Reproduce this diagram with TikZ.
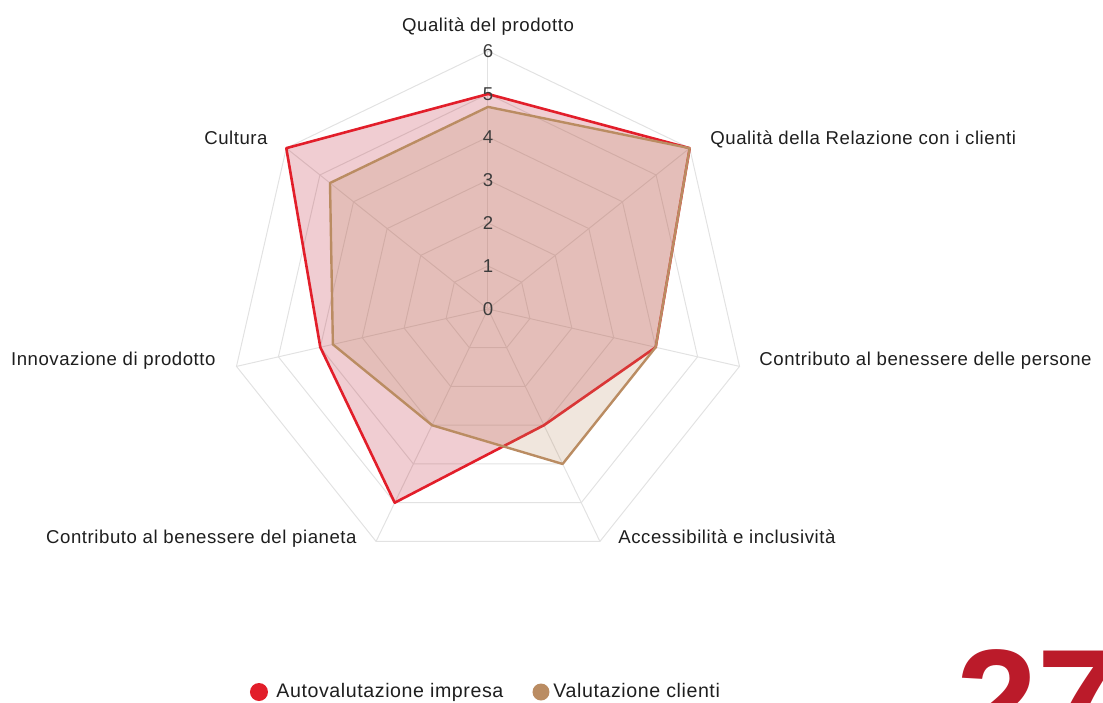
\documentclass[tikz,border=0pt]{standalone}
\usepackage{fontspec}
\setmainfont{Liberation Sans}[LetterSpace=3]
\newfontfamily\bignum{Liberation Sans}
\usepackage{xcolor}

\definecolor{autored}{RGB}{226,30,42}
\definecolor{autofill}{RGB}{187,27,48}
\definecolor{clibrown}{RGB}{186,140,98}
\definecolor{gridgray}{RGB}{226,226,226}
\definecolor{lblgray}{RGB}{30,30,30}
\definecolor{numgray}{RGB}{60,60,60}
\definecolor{pagered}{RGB}{187,27,42}

\begin{document}
\begin{tikzpicture}[x=0.5pt,y=0.5pt,
    grid/.style={draw=gridgray,line width=0.5pt},
    axislbl/.style={inner sep=0pt,text=lblgray,font=\fontsize{9.3}{11}\selectfont},
    numlbl/.style={inner sep=0pt,text=numgray,font=\fontsize{9.3}{11}\selectfont},
    leglbl/.style={inner sep=0pt,anchor=base west,text=lblgray,font=\fontsize{9.8}{11}\selectfont}]
    \useasboundingbox (-488,-393) rectangle (615,309);
    \clip (-488,-393) rectangle (615,309);
    % griglia
    \foreach \r in {1,...,6}
        \draw[grid] (90:\r*43) \foreach \i in {1,...,6}{ -- (90-\i*360/7:\r*43)} -- cycle;
    \foreach \i in {0,...,6}
        \draw[grid] (0,0) -- (90-\i*360/7:258);
    % serie
    \foreach \v [count=\i from 0] in {5,6,4,3,5,4,6}
        \coordinate (A\i) at (90-\i*360/7:\v*43);
    \foreach \v [count=\i from 0] in {4.7,6,4,4,3,3.7,4.7}
        \coordinate (C\i) at (90-\i*360/7:\v*43);
    \filldraw[fill=autofill,fill opacity=0.22,draw=autored,line width=1.3pt,line join=round]
        (A0) -- (A1) -- (A2) -- (A3) -- (A4) -- (A5) -- (A6) -- cycle;
    \filldraw[fill=clibrown,fill opacity=0.22,draw=clibrown,line width=1.2pt,line join=round]
        (C0) -- (C1) -- (C2) -- (C3) -- (C4) -- (C5) -- (C6) -- cycle;
    \foreach \k in {0,...,6}
        \node[numlbl] (N\k) at (0,\k*43) {\k};
    % etichette
    \node[axislbl,anchor=base] (L0) at (0,277.5) {Qualità del prodotto};
    \node[axislbl,anchor=base west] (L1) at (222,164) {Qualità della Relazione con i clienti};
    \node[axislbl,anchor=base west] (L2) at (271,-56.7) {Contributo al benessere delle persone};
    \node[axislbl,anchor=base west] (L3) at (130,-234.3) {Accessibilità e inclusività};
    \node[axislbl,anchor=base east] (L4) at (-131,-234.3) {Contributo al benessere del pianeta};
    \node[axislbl,anchor=base east] (L5) at (-272,-56.7) {Innovazione di prodotto};
    \node[axislbl,anchor=base east] (L6) at (-220,164.7) {Cultura};
    % legenda
    \fill[autored] (-229,-383) circle (9);
    \node[leglbl] (leg1) at (-212,-388) {Autovalutazione impresa};
    \fill[clibrown] (53,-383) circle (8.5);
    \node[leglbl] (leg2) at (65,-388) {Valutazione clienti};
    \node[inner sep=0pt,anchor=base west,text=pagered,font=\bignum\bfseries\fontsize{73}{73}\selectfont] (pg) at (468,-442) {27};
\end{tikzpicture}
\end{document}
